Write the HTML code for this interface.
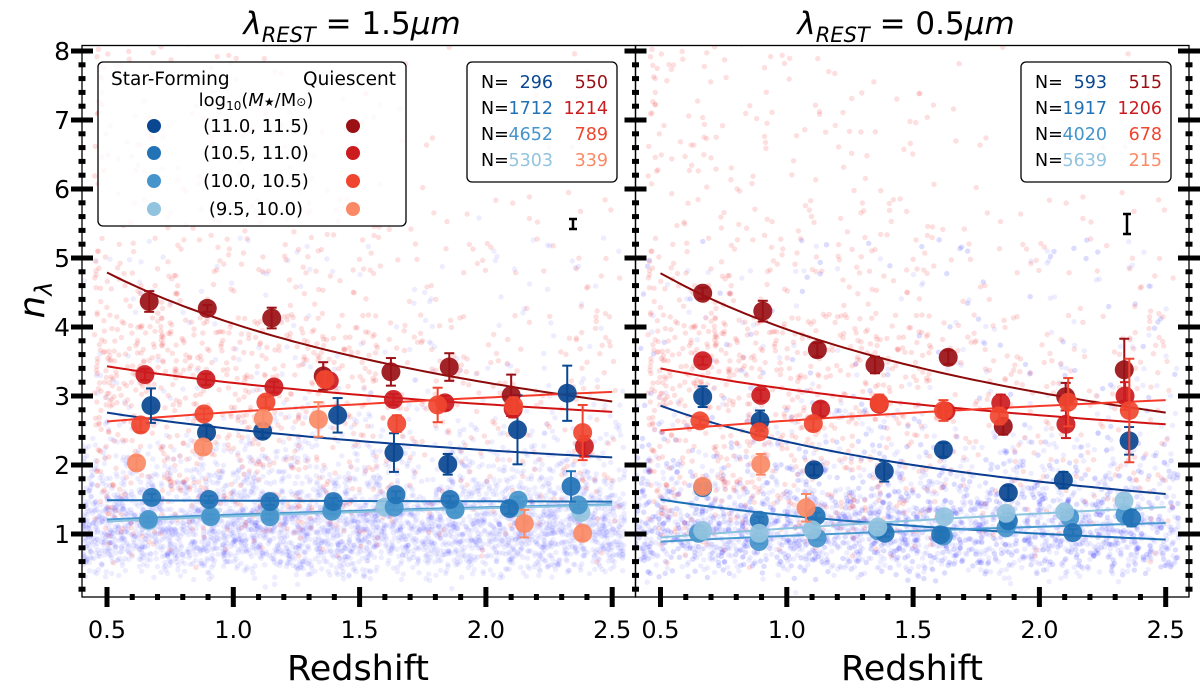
<!DOCTYPE html>
<html><head><meta charset="utf-8"><style>
html,body{margin:0;padding:0;background:#fff;}
svg{display:block;font-family:"DejaVu Sans","Liberation Sans",sans-serif;}
</style></head><body>
<svg id="chart" width="1200" height="687" viewBox="0 0 1200 687" xmlns="http://www.w3.org/2000/svg">
<defs>
<clipPath id="clipL"><rect x="82" y="45.5" width="553.5" height="551.5"/></clipPath>
<clipPath id="clipR"><rect x="635.5" y="45.5" width="553.5" height="551.5"/></clipPath>
</defs>
<g id="cloudL" clip-path="url(#clipL)"></g>
<g id="cloudR" clip-path="url(#clipR)"></g>
<g id="fitsL" clip-path="url(#clipL)"></g>
<g id="fitsR" clip-path="url(#clipR)"></g>
<g id="ptsL"></g>
<g id="ptsR"></g>
<g id="axes"></g>

<text x="352" y="34" text-anchor="middle" font-size="31"><tspan font-style="italic">λ</tspan><tspan font-style="italic" font-size="21" dy="8">REST</tspan><tspan dy="-8"> = 1.5</tspan><tspan font-style="italic">μm</tspan></text>
<text x="906" y="34" text-anchor="middle" font-size="31"><tspan font-style="italic">λ</tspan><tspan font-style="italic" font-size="21" dy="8">REST</tspan><tspan dy="-8"> = 0.5</tspan><tspan font-style="italic">μm</tspan></text>
<text x="0" y="0" transform="translate(44,300) rotate(-90)" text-anchor="middle" font-size="36" font-style="italic">n<tspan font-size="24" dy="8">λ</tspan></text>
<text x="358" y="680" text-anchor="middle" font-size="35">Redshift</text>
<text x="912" y="680" text-anchor="middle" font-size="35">Redshift</text>

<g>
<rect x="98" y="62" width="308" height="164" rx="5" fill="#fff" fill-opacity="0.85" stroke="#000" stroke-width="1.3"/>
<text x="111" y="85" font-size="18.5">Star-Forming</text>
<text x="396" y="85" font-size="18.5" text-anchor="end">Quiescent</text>
<text x="256" y="106" font-size="18" text-anchor="middle">log<tspan font-size="12" dy="4">10</tspan><tspan dy="-4">(</tspan><tspan font-style="italic">M</tspan><tspan font-size="12">★</tspan>/M<tspan font-size="12">⊙</tspan>)</text>
<g id="legendRows"></g>
</g>
<g>
<rect x="467" y="62" width="150" height="120" rx="5" fill="#fff" fill-opacity="0.85" stroke="#000" stroke-width="1.3"/>
<g id="nboxL"></g>
</g>
<g>
<rect x="1021" y="62" width="150" height="120" rx="5" fill="#fff" fill-opacity="0.85" stroke="#000" stroke-width="1.3"/>
<g id="nboxR"></g>
</g>
<g stroke="#000" stroke-width="2.5">
<line x1="573" y1="219" x2="573" y2="229"/><line x1="569" y1="219" x2="577" y2="219"/><line x1="569" y1="229" x2="577" y2="229"/>
</g>
<g stroke="#000" stroke-width="2.5">
<line x1="1127" y1="214" x2="1127" y2="234"/><line x1="1123" y1="214" x2="1131" y2="214"/><line x1="1123" y1="234" x2="1131" y2="234"/>
</g>
</svg>
<script>
// ---- data ----
const seriesNames = ["SF 11.0-11.5","SF 10.5-11.0","SF 10.0-10.5","SF 9.5-10.0","Q 11.0-11.5","Q 10.5-11.0","Q 10.0-10.5","Q 9.5-10.0"];
const seriesColors = ["#0a4791","#2272b6","#4594cb","#92c3df","#9a1015","#cc1b1f","#f0452f","#fa8a66"];
const lineColors = ["#0a3d8f","#1c6fb5","#4a9ad0","#8cc4e0","#8b0a0a","#d01212","#f53a2a",null];
const massBins = ["(11.0, 11.5)","(10.5, 11.0)","(10.0, 10.5)","(9.5, 10.0)"];
const countsSF_L = ["296","1712","4652","5303"];
const countsQ_L = ["550","1214","789","339"];
const countsSF_R = ["593","1917","4020","5639"];
const countsQ_R = ["515","1206","678","215"];

// Left panel (1.5 um)
const L_SF11_z = [0.674,0.894,1.116,1.413,1.636,1.849,2.125,2.322];
const L_SF11_n = [2.86,2.47,2.49,2.72,2.18,2.01,2.51,3.04];
const L_SF11_e = [0.25,0.1,0.1,0.25,0.28,0.15,0.5,0.4];
const L_SF105_z = [0.677,0.904,1.145,1.396,1.644,1.858,2.093,2.337];
const L_SF105_n = [1.53,1.50,1.47,1.47,1.57,1.50,1.37,1.69];
const L_SF105_e = [0.05,0.05,0.05,0.05,0.05,0.05,0.08,0.22];
const L_SF10_z = [0.664,0.91,1.145,1.39,1.637,1.878,2.128,2.366];
const L_SF10_n = [1.21,1.25,1.25,1.33,1.39,1.35,1.49,1.42];
const L_SF10_e = [0.04,0.04,0.04,0.04,0.04,0.04,0.05,0.05];
const L_SF95_z = [0.664,0.91,1.145,1.39,1.60,1.878,2.118,2.376];
const L_SF95_n = [1.19,1.27,1.31,1.37,1.39,1.36,1.38,1.31];
const L_SF95_e = [0.03,0.03,0.03,0.03,0.03,0.03,0.04,0.05];
const L_Q11_z = [0.667,0.897,1.152,1.356,1.624,1.855,2.10];
const L_Q11_n = [4.37,4.27,4.13,3.29,3.35,3.42,3.01];
const L_Q11_e = [0.15,0.05,0.15,0.2,0.2,0.2,0.3];
const L_Q105_z = [0.650,0.892,1.161,1.38,1.634,1.838,2.108,2.39];
const L_Q105_n = [3.31,3.24,3.13,3.22,2.95,2.90,2.81,2.27];
const L_Q105_e = [0.08,0.08,0.08,0.08,0.08,0.1,0.12,0.15];
const L_Q10_z = [0.633,0.884,1.129,1.363,1.647,1.809,2.11,2.383];
const L_Q10_n = [2.58,2.74,2.91,3.24,2.60,2.87,2.86,2.47];
const L_Q10_e = [0.1,0.08,0.08,0.1,0.12,0.25,0.12,0.4];
const L_Q95_z = [0.617,0.881,1.119,1.337,2.152,2.383];
const L_Q95_n = [2.03,2.26,2.67,2.66,1.15,1.01];
const L_Q95_e = [0.1,0.1,0.12,0.25,0.2,0.1];

// Right panel (0.5 um)
const R_SF11_z = [0.667,0.894,1.108,1.386,1.62,1.877,2.095,2.355];
const R_SF11_n = [2.99,2.64,1.93,1.91,2.22,1.60,1.78,2.35];
const R_SF11_e = [0.15,0.15,0.08,0.15,0.1,0.1,0.12,0.2];
const R_SF105_z = [0.667,0.891,1.116,1.389,1.609,1.877,2.132,2.365];
const R_SF105_n = [1.67,1.20,1.26,1.01,0.99,1.19,1.02,1.23];
const R_SF105_e = [0.05,0.05,0.05,0.05,0.05,0.05,0.05,0.12];
const R_SF10_z = [0.65,0.89,1.12,1.36,1.62,1.868,2.12,2.339];
const R_SF10_n = [1.01,0.89,0.94,1.05,0.97,1.09,1.24,1.28];
const R_SF10_e = [0.03,0.03,0.03,0.03,0.03,0.03,0.04,0.05];
const R_SF95_z = [0.667,0.89,1.10,1.36,1.624,1.868,2.10,2.335];
const R_SF95_n = [1.05,1.01,1.06,1.10,1.25,1.30,1.32,1.48];
const R_SF95_e = [0.03,0.03,0.03,0.03,0.03,0.03,0.04,0.05];
const R_Q11_z = [0.667,0.905,1.121,1.349,1.639,1.857,2.104,2.336];
const R_Q11_n = [4.49,4.23,3.67,3.45,3.56,2.56,2.99,3.38];
const R_Q11_e = [0.08,0.15,0.1,0.12,0.1,0.12,0.2,0.45];
const R_Q105_z = [0.667,0.897,1.134,1.366,1.63,1.847,2.105,2.339];
const R_Q105_n = [3.51,3.01,2.81,2.88,2.78,2.90,2.59,3.00];
const R_Q105_e = [0.06,0.08,0.1,0.1,0.1,0.12,0.2,0.2];
const R_Q10_z = [0.656,0.891,1.105,1.366,1.62,1.841,2.114,2.356];
const R_Q10_n = [2.64,2.48,2.60,2.90,2.79,2.71,2.91,2.79];
const R_Q10_e = [0.06,0.06,0.1,0.12,0.15,0.12,0.35,0.75];
const R_Q95_z = [0.667,0.897,1.076];
const R_Q95_n = [1.69,2.01,1.38];
const R_Q95_e = [0.08,0.15,0.2];

// fit-curve values at z=0.5 and z=2.5 (power law in 1+z)
const L_fitStart = [2.76,1.49,1.21,1.18,4.79,3.43,2.63];
const L_fitEnd   = [2.11,1.47,1.43,1.42,2.92,2.77,3.06];
const R_fitStart = [2.86,1.50,0.89,0.95,4.78,3.40,2.50];
const R_fitEnd   = [1.58,0.92,1.16,1.39,2.76,2.59,2.94];

const xTicks = [0.5,1.0,1.5,2.0,2.5];
const xTickLabels = ["0.5","1.0","1.5","2.0","2.5"];
const yTicks = [1,2,3,4,5,6,7,8];
const yTickLabels = ["1","2","3","4","5","6","7","8"];

// ---- scales ----
const NS="http://www.w3.org/2000/svg";
const PX=252.6;
function xL(z){return 107+(z-0.5)*PX;}
function xR(z){return 660.5+(z-0.5)*PX;}
function yS(v){return 534-(v-1)*69;}
function mk(tag,attrs,parent){const e=document.createElementNS(NS,tag);for(const k in attrs)e.setAttribute(k,attrs[k]);parent.appendChild(e);return e;}

// ---- background cloud (deterministic pseudo-random, decorative) ----
let seed=12345;
function rnd(){seed=(seed*1103515245+12345)%2147483648;return seed/2147483648;}
function gauss(){return Math.sqrt(-2*Math.log(rnd()+1e-9))*Math.cos(2*Math.PI*rnd());}
function cloud(g,xf,blueUp){
  let s='';
  for(let i=0;i<3600;i++){
    const z=0.4+2.15*rnd();
    let v=Math.exp(0.12+0.42*gauss());
    if(rnd()<blueUp) v=0.3+5*rnd();
    if(v<0.15) continue;
    s+=`<circle cx="${xf(z).toFixed(1)}" cy="${yS(v).toFixed(1)}" r="2.7"/>`;
  }
  const gb=mk('g',{fill:'#3030ff','fill-opacity':'0.085'},g);
  
  
  gb.innerHTML=s;
  s='';
  for(let i=0;i<1500;i++){
    const z=0.45+2.1*Math.pow(rnd(),1.25);
    let v;
    const r=rnd();
    if(r<0.45) v=1+3.2*rnd(); else if(r<0.8) v=2+6.3*rnd()*rnd()+rnd()*2; else v=0.5+7.7*rnd();
    if(z>1.6 && rnd()<0.5) continue;
    s+=`<circle cx="${xf(z).toFixed(1)}" cy="${yS(v).toFixed(1)}" r="2.7"/>`;
  }
  const gr=mk('g',{fill:'#f02525','fill-opacity':'0.15'},g);
  
  
  gr.innerHTML=s;
}
cloud(document.getElementById('cloudL'),xL,0.05);
cloud(document.getElementById('cloudR'),xR,0.12);

// ---- fit lines ----
function fits(g,xf,starts,ends){
  for(let i=0;i<starts.length;i++){
    const b=Math.log(ends[i]/starts[i])/Math.log(3.5/1.5);
    const a=starts[i]/Math.pow(1.5,b);
    let d='';
    for(let k=0;k<=60;k++){const z=0.5+2*k/60;const v=a*Math.pow(1+z,b);d+=(k?'L':'M')+xf(z).toFixed(1)+' '+yS(v).toFixed(1);}
    const p=mk('path',{d:d,fill:'none',stroke:lineColors[i],'stroke-width':'2'},g);
    
    
  }
}
fits(document.getElementById('fitsL'),xL,L_fitStart,L_fitEnd);
fits(document.getElementById('fitsR'),xR,R_fitStart,R_fitEnd);

// ---- points ----
function pts(g,xf,zs,ns,es,ci){
  for(let i=0;i<zs.length;i++){
    const cx=xf(zs[i]),cy=yS(ns[i]);
    const gg=mk('g',{},g);
    
    
    mk('circle',{cx:cx,cy:cy,r:9.5,fill:seriesColors[ci],'fill-opacity':'0.92'},gg);
    const y1=yS(ns[i]+es[i]),y2=yS(ns[i]-es[i]);
    mk('line',{x1:cx,x2:cx,y1:y1,y2:y2,stroke:seriesColors[ci],'stroke-width':'2'},gg);
    mk('line',{x1:cx-5,x2:cx+5,y1:y1,y2:y1,stroke:seriesColors[ci],'stroke-width':'2'},gg);
    mk('line',{x1:cx-5,x2:cx+5,y1:y2,y2:y2,stroke:seriesColors[ci],'stroke-width':'2'},gg);
  }
}
const gL=document.getElementById('ptsL'),gR=document.getElementById('ptsR');
pts(gL,xL,L_SF95_z,L_SF95_n,L_SF95_e,3);pts(gL,xL,L_SF10_z,L_SF10_n,L_SF10_e,2);
pts(gL,xL,L_SF105_z,L_SF105_n,L_SF105_e,1);pts(gL,xL,L_SF11_z,L_SF11_n,L_SF11_e,0);
pts(gL,xL,L_Q11_z,L_Q11_n,L_Q11_e,4);pts(gL,xL,L_Q105_z,L_Q105_n,L_Q105_e,5);
pts(gL,xL,L_Q10_z,L_Q10_n,L_Q10_e,6);pts(gL,xL,L_Q95_z,L_Q95_n,L_Q95_e,7);
pts(gR,xR,R_SF10_z,R_SF10_n,R_SF10_e,2);pts(gR,xR,R_SF105_z,R_SF105_n,R_SF105_e,1);
pts(gR,xR,R_SF95_z,R_SF95_n,R_SF95_e,3);pts(gR,xR,R_SF11_z,R_SF11_n,R_SF11_e,0);
pts(gR,xR,R_Q11_z,R_Q11_n,R_Q11_e,4);pts(gR,xR,R_Q105_z,R_Q105_n,R_Q105_e,5);
pts(gR,xR,R_Q10_z,R_Q10_n,R_Q10_e,6);pts(gR,xR,R_Q95_z,R_Q95_n,R_Q95_e,7);

// ---- axes ----
const ax=document.getElementById('axes');
function panel(x0,xf,yLabels,rightTicks){
  mk('rect',{x:x0,y:45.5,width:553.5,height:551.5,fill:'none',stroke:'#000','stroke-width':'1.3'},ax);
  for(let k=0;k<=21;k++){
    const z=0.4+k*0.1; const x=xf(z);
    if(x<x0+1||x>x0+553) continue;
    const major=Math.abs(z*2-Math.round(z*2))<1e-6;
    if(major) mk('rect',{x:x-2.5,y:587,width:5,height:20,fill:'#000'},ax);
    else mk('rect',{x:x-2.5,y:594,width:5,height:6,fill:'#000'},ax);
  }
  xTicks.forEach((t,i)=>{
    const tx=mk('text',{x:xf(t),y:638,'font-size':'24','text-anchor':'middle'},ax);
    tx.textContent=xTickLabels[i];
    
    
  });
  const sides=rightTicks?[x0,x0+553.5]:[x0];
  sides.forEach(sx=>{
    for(let k=0;k<=40;k++){
      const v=0.2+k*0.2; const y=yS(v);
      if(y<46||y>596) continue;
      const major=Math.abs(v-Math.round(v))<1e-6;
      if(major) mk('rect',{x:sx-11,y:y-2.5,width:22,height:5,fill:'#000'},ax);
      else mk('rect',{x:sx-3.5,y:y-2.5,width:7,height:5,fill:'#000'},ax);
    }
  });
  if(yLabels){
    yTicks.forEach((t,i)=>{
      const tx=mk('text',{x:70,y:yS(t)+9,'font-size':'25','text-anchor':'end'},ax);
      tx.textContent=yTickLabels[i];
      
      
    });
  }
}
panel(82,xL,true,false);
panel(635.5,xR,false,true);

// ---- legend rows ----
const lr=document.getElementById('legendRows');
const rowY=[126,153,181,209];
massBins.forEach((m,i)=>{
  const c1=mk('circle',{cx:154,cy:rowY[i],r:7,fill:seriesColors[i]},lr);
  
  
  const c2=mk('circle',{cx:353,cy:rowY[i],r:7,fill:seriesColors[i+4]},lr);
  
  
  const t=mk('text',{x:256,y:rowY[i]+6,'font-size':'18','text-anchor':'middle'},lr);
  t.textContent=m;
  
  
});

// ---- N boxes ----
function nbox(g,x0,sf,q){
  const ys=[88,114,140,166];
  for(let i=0;i<4;i++){
    const a=mk('text',{x:x0+14,y:ys[i],'font-size':'17.5'},g);a.textContent='N=';
    
    
    const b=mk('text',{x:x0+86,y:ys[i],'font-size':'17.5','text-anchor':'end',fill:seriesColors[i]},g);b.textContent=sf[i];
    
    
    const c=mk('text',{x:x0+141,y:ys[i],'font-size':'17.5','text-anchor':'end',fill:seriesColors[i+4]},g);c.textContent=q[i];
    
    
  }
}
nbox(document.getElementById('nboxL'),467,countsSF_L,countsQ_L);
nbox(document.getElementById('nboxR'),1021,countsSF_R,countsQ_R);
</script>
</body></html>
